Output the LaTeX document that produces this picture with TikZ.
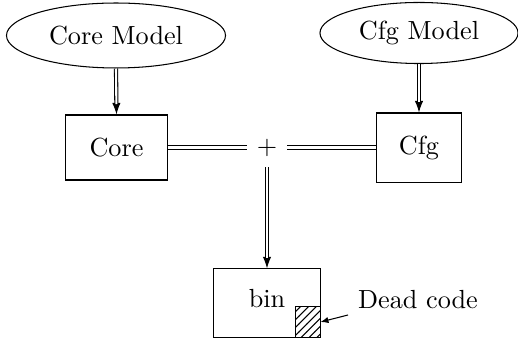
\documentclass[tikz,border=0pt]{standalone}
\usetikzlibrary{shapes.geometric,arrows.meta,patterns}
\begin{document}
\begin{tikzpicture}[x=0.3817pt,y=-0.3817pt,
  model/.style={ellipse,draw,inner sep=0pt},
  unit/.style={rectangle,draw,inner sep=0pt},
  dbl/.style={double,double distance=0.8pt,line width=0.4pt},
  tipline/.style={line width=0.4pt,-{Latex[length=4.4pt,width=3.2pt]}},
  dblshort/.style={dbl,shorten >=4pt},
  thinarrow/.style={-{Latex[length=3pt,width=2.4pt]},line width=0.4pt}]
\useasboundingbox (0,0) rectangle (518,340);
\node[model,minimum width=83.6pt,minimum height=24.8pt] (cm) at (116,35.5) {Core Model};
\node[model,minimum width=75.6pt,minimum height=23.3pt] (fm) at (419,33) {Cfg Model};
\node[unit,minimum width=38.6pt,minimum height=24.8pt] (core) at (116.5,147.5) {Core};
\node[unit,minimum width=32.8pt,minimum height=26.7pt] (cfg) at (419,148) {Cfg};
\node[inner sep=0pt,minimum width=14.9pt,minimum height=14.5pt] (plus) at (267,147.5) {$+$};
\node[unit,minimum width=40.5pt,minimum height=26pt] (bin) at (267,303) {};
\node (bintext) at (267,299) {bin};
\node[unit,anchor=south east,minimum width=9.2pt,minimum height=11.5pt,pattern=north east lines] (dead) at (bin.south east) {};
\node (deadlabel) at (418,300) {Dead code};
\coordinate (deadstart) at (348,315);
\draw[tipline] (cm.south) -- (core.north);
\draw[dblshort] (cm.south) -- (core.north);
\draw[tipline] (fm.south) -- (cfg.north);
\draw[dblshort] (fm.south) -- (cfg.north);
\draw[dbl] (core.east |- plus.west) -- (plus.west);
\draw[dbl] (plus.east) -- (plus.east -| cfg.west);
\draw[tipline] (plus.south) -- (bin.north);
\draw[dblshort] (plus.south) -- (bin.north);
\draw[thinarrow] (deadstart) -- (dead.east);
\end{tikzpicture}
\end{document}
